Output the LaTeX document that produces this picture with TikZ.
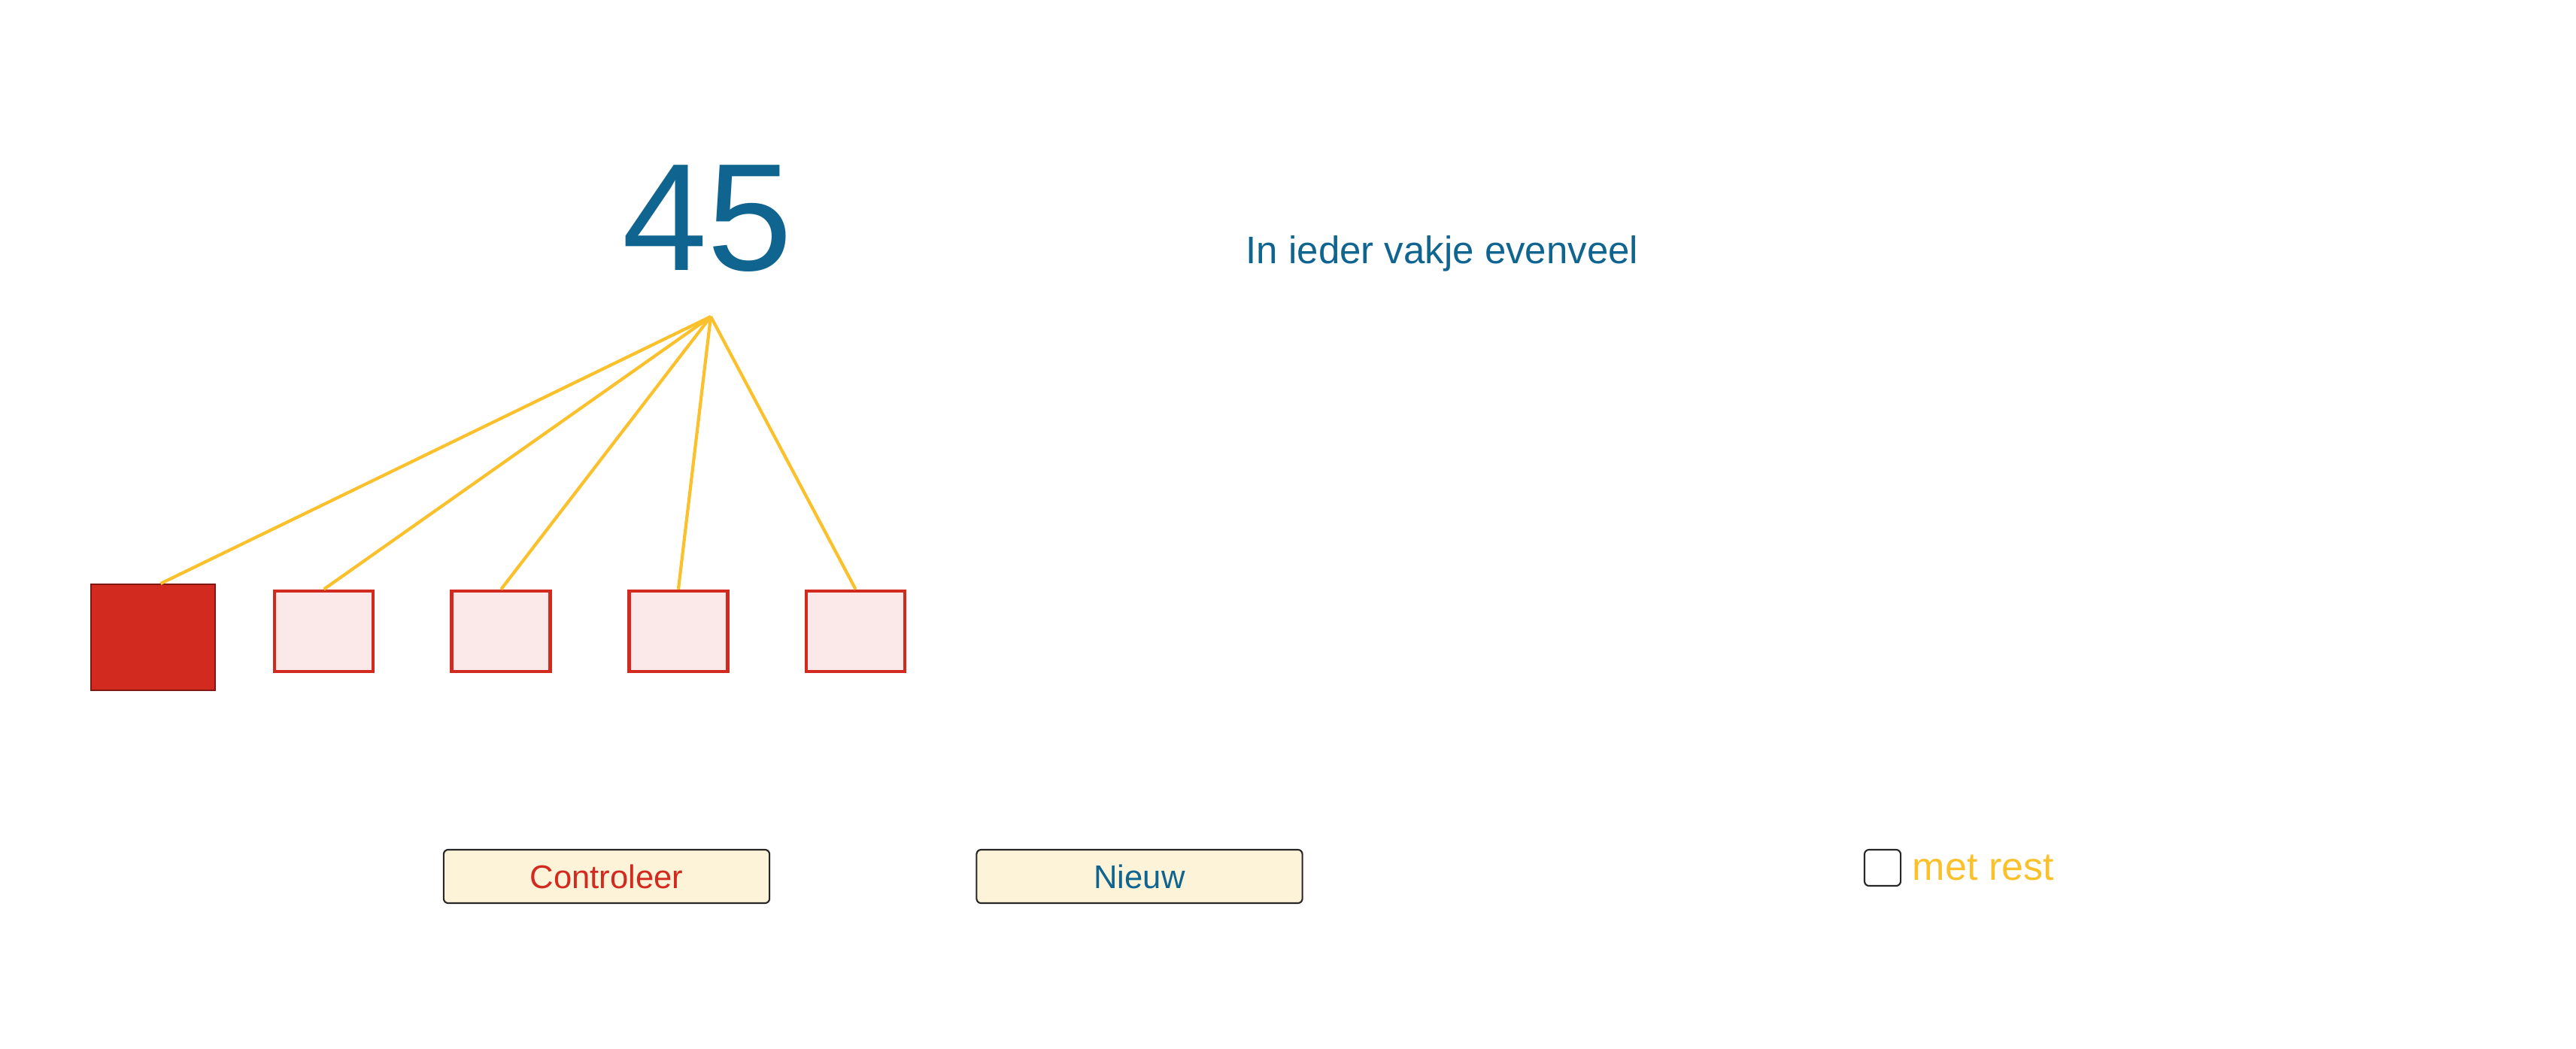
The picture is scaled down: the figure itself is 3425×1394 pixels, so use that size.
\documentclass[tikz,border=0pt]{standalone}
\usepackage{fontspec}
\setmainfont{Liberation Sans}
\usetikzlibrary{positioning}
\definecolor{deelblauw}{RGB}{16,100,144}
\definecolor{deelrood}{RGB}{211,42,32}
\definecolor{deelroze}{RGB}{251,233,233}
\definecolor{deelgeel}{RGB}{251,193,45}
\definecolor{knopgeel}{RGB}{252,243,216}
\tikzset{
    vakje/.style={draw=deelrood, fill=deelroze, line width=1.3pt, minimum width=1.31cm, minimum height=1.07cm},
    knop/.style={draw=black!85, fill=knopgeel, rounded corners=0.06cm, line width=0.6pt, minimum width=4.33cm, minimum height=0.71cm, font=\fontsize{12.4}{14}\selectfont},
    lijn/.style={deelgeel, line width=1.2pt},
}
\begin{document}
\begin{tikzpicture}[x=0.01cm, y=-0.01cm, node distance=1.0cm]
    \useasboundingbox (0,0) rectangle (3425,1394);
    \node[anchor=base, inner sep=0, text=deelblauw, font=\fontsize{57.8}{60}\selectfont] (getal) at (941,359) {45};
    \node[anchor=base west, inner sep=0, text=deelblauw, font=\fontsize{14.5}{17}\selectfont] (opdracht) at (1656,350) {In ieder vakje evenveel};
    \coordinate (top) at (945,421);
    % de vakjes
    \node[fill=deelrood, draw=deelrood!60!black, line width=0.5pt, minimum width=1.65cm, minimum height=1.41cm] (v0) at (203.5,847.5) {};
    \node[vakje] (v1) at (430.5,839.5) {};
    \node[vakje, right=of v1] (v2) {};
    \node[vakje, right=of v2] (v3) {};
    \node[vakje, right=of v3] (v4) {};
    \draw[lijn] (top) -- ([xshift=0.1cm]v0.north);
    \foreach \i in {1,...,4}
        \draw[lijn] (top) -- (v\i.north);
    % knoppen
    \node[knop, text=deelrood] (controleer) at (806.5,1165.5) {Controleer};
    \node[knop, text=deelblauw] (nieuw) at (1515,1165.5) {Nieuw};
    \node[draw=black!85, line width=0.6pt, rounded corners=0.06cm, minimum size=0.48cm] (vink) at (2503,1154) {};
    \node[right=0.14cm of vink, inner sep=0, text=deelgeel, font=\fontsize{14.8}{17}\selectfont] (rest) {met rest};
\end{tikzpicture}
\end{document}
